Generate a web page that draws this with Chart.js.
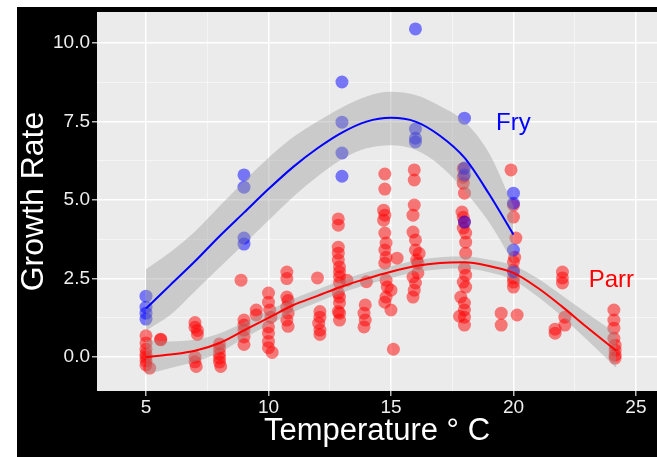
<!DOCTYPE html>
<html>
<head>
<meta charset="utf-8">
<script src="https://cdn.jsdelivr.net/npm/chart.js@4.4.1/dist/chart.umd.min.js"></script>
<style>
  html, body { margin: 0; padding: 0; background: #fff; overflow: hidden; }
  canvas { display: block; }
</style>
</head>
<body>
<canvas id="growthChart" width="657" height="457"></canvas>
<script>
// DADOS - pontos
const fryTemp   = [5, 5, 5, 5, 9, 9, 9, 9, 13, 13, 13, 13, 16, 16, 16, 16, 18, 18, 18, 18, 20, 20, 20, 20];
const fryGrowth = [1.94, 1.59, 1.40, 1.21, 5.80, 5.41, 3.79, 3.60, 8.76, 7.48, 6.50, 5.76,
                   10.45, 7.26, 6.97, 6.85, 7.61, 6.02, 5.80, 4.30, 5.22, 4.90, 3.41, 2.71];

const parrTemp = [
  5, 5, 5, 5, 5, 5, 5, 5.15, 5.6, 5.6,
  7, 7, 7.1, 7.1, 7, 7, 7.05,
  8, 8, 8, 8, 8, 8.05,
  8.88, 9, 9, 9, 9, 9,
  9.5, 9.5,
  10, 10, 10.05, 10.1, 10, 10, 10, 10, 10.15,
  10.75, 10.75, 10.75, 10.8, 10.75, 10.8, 10.75, 10.8,
  12, 12.1, 12.1, 12.05, 12.1, 12.1,
  12.85, 12.85, 12.85, 12.85, 12.85, 12.9, 12.9, 12.9, 12.9, 12.85, 12.9, 12.9, 12.85, 12.9, 12.9, 13.2,
  14, 13.95, 13.9, 13.95, 13.9,
  14.75, 14.75, 14.7, 14.75, 14.7, 14.75, 14.8, 14.75, 14.8, 14.75, 14.8, 14.85, 15, 14.8, 14.75, 15, 15.25, 15.1,
  15.95, 15.95, 15.95, 15.9, 15.9, 16, 16, 16.05, 16.1, 15.9, 16, 15.95, 15.9, 16.15, 16.1,
  17.95, 17.95, 17.95, 18, 17.9, 17.95, 18, 17.95, 18.05, 18.05, 18.05, 18, 18.05, 17.95, 18.05, 17.85, 18, 18, 17.8, 18, 18,
  19.5, 19.5,
  19.9, 20, 20, 20.1, 20.05, 20, 20, 20, 20, 20, 20.15,
  22, 22, 22, 22.1, 22.1, 21.7, 21.7,
  24.1, 24.1, 24.1, 24.1, 24.15, 24.15, 24.15, 24.15
];
const parrGrowth = [
  0.68, 0.45, 0.25, 0.10, 0.00, -0.12, -0.25, -0.35, 0.57, 0.55,
  1.10, 0.95, 0.85, 0.72, 0.00, -0.15, -0.30,
  0.42, 0.27, 0.10, -0.03, -0.16, -0.30,
  2.45, 1.18, 1.02, 0.86, 0.64, 0.40,
  1.50, 1.34,
  2.04, 1.75, 1.50, 1.27, 0.96, 0.76, 0.50, 0.30, 0.15,
  2.71, 2.50, 1.91, 1.80, 1.59, 1.40, 1.18, 0.98,
  2.52, 1.45, 1.27, 1.08, 0.86, 0.72,
  4.40, 4.20, 3.50, 3.31, 3.09, 2.87, 2.71, 2.55, 2.36, 2.04, 1.91, 1.72, 1.45, 1.40, 1.18, 2.45,
  2.40, 1.66, 1.40, 1.18, 0.96,
  5.83, 5.35, 4.68, 4.52, 4.36, 3.95, 3.63, 3.41, 3.18, 2.99, 2.45, 2.23, 2.13, 1.91, 1.75, 1.50, 3.15, 0.25,
  5.96, 5.64, 4.84, 4.52, 3.98, 3.73, 3.41, 3.09, 2.99, 2.55, 2.36, 2.13, 1.91, 3.30, 2.68,
  6.00, 5.73, 5.54, 5.22, 4.62, 4.45, 4.30, 4.11, 3.95, 3.66, 3.31, 2.83, 2.61, 2.39, 2.23, 1.91, 1.72, 1.50, 1.30, 1.27, 1.02,
  1.40, 1.02,
  5.96, 4.84, 4.46, 3.79, 3.18, 3.03, 2.77, 2.52, 2.39, 2.23, 1.34,
  2.71, 2.52, 2.36, 1.27, 1.02, 0.89, 0.76,
  1.50, 1.18, 0.92, 0.60, 0.38, 0.22, 0.06, -0.03
];

// CURVAS SUAVIZADAS E FAIXAS DE CONFIANÇA
const fryCurveTemp  = [5, 6, 7, 8, 9, 10, 11, 12, 13, 14, 15, 16, 17, 18, 19, 20];
const fryCurveFit   = [1.55, 2.3, 3.05, 3.85, 4.6, 5.35, 6.05, 6.65, 7.15, 7.5, 7.62, 7.5, 7.05, 6.35, 5.2, 3.9];
const fryCurveUpper = [2.8, 3.35, 4.0, 4.8, 5.6, 6.35, 7.0, 7.5, 7.95, 8.3, 8.45, 8.35, 8.0, 7.5, 6.5, 4.8];
const fryCurveLower = [0.85, 1.35, 2.1, 2.85, 3.6, 4.35, 5.1, 5.75, 6.3, 6.65, 6.75, 6.6, 6.1, 5.3, 4.3, 3.0];

const parrCurveTemp  = [5, 6, 7, 8, 9, 10, 11, 12, 13, 14, 15, 16, 17, 18, 19, 20, 21, 22, 23, 24.2];
const parrCurveFit   = [0.0, 0.08, 0.2, 0.45, 0.85, 1.25, 1.65, 1.95, 2.25, 2.5, 2.72, 2.9, 3.0, 3.02, 2.9, 2.68, 2.2, 1.6, 0.95, 0.2];
const parrCurveUpper = [0.55, 0.5, 0.55, 0.75, 1.1, 1.48, 1.85, 2.15, 2.45, 2.7, 2.9, 3.08, 3.18, 3.2, 3.1, 2.92, 2.5, 1.95, 1.4, 0.75];
const parrCurveLower = [-0.55, -0.35, -0.15, 0.15, 0.6, 1.02, 1.43, 1.75, 2.05, 2.3, 2.52, 2.7, 2.8, 2.82, 2.7, 2.45, 1.92, 1.28, 0.55, -0.35];

// EIXOS
const xMajorTicks = [5, 10, 15, 20, 25];
const xMinorTicks = [7.5, 12.5, 17.5, 22.5];
const yMajorTicks = [0, 2.5, 5, 7.5, 10];
const yMinorTicks = [1.25, 3.75, 6.25, 8.75];

// RÓTULOS DAS FASES
const stageNames  = ["Fry", "Parr"];
const stageTemp   = [20, 24];
const stageGrowth = [7.45, 2.45];
const stageColors = ["#0000ff", "#ff0000"];

const FONT = "'Liberation Sans', Arial, sans-serif";

function toPoints(xs, ys) {
  return xs.map((x, i) => ({ x: x, y: ys[i] }));
}

function tickList(major, minor) {
  return major.concat(minor).sort((a, b) => a - b).map(v => ({ value: v }));
}

// fundo preto + painel cinza
const background = {
  id: "background",
  beforeDraw(chart) {
    const { ctx, chartArea: a, width, height } = chart;
    ctx.save();
    ctx.fillStyle = "#ffffff";
    ctx.fillRect(0, 0, width, height);
    ctx.fillStyle = "#000000";
    ctx.fillRect(17, 7, width - 17, height - 7);
    ctx.fillStyle = "#ebebeb";
    ctx.fillRect(a.left, a.top, a.right - a.left, a.bottom - a.top);
    ctx.restore();
  }
};

// textos Fry / Parr
const stageText = {
  id: "stageText",
  afterDatasetsDraw(chart) {
    const { ctx, scales } = chart;
    ctx.save();
    ctx.font = "24px " + FONT;
    ctx.textAlign = "center";
    ctx.textBaseline = "middle";
    stageNames.forEach((name, i) => {
      ctx.fillStyle = stageColors[i];
      ctx.fillText(name, scales.x.getPixelForValue(stageTemp[i]), scales.y.getPixelForValue(stageGrowth[i]));
    });
    ctx.restore();
  }
};

const band = "rgba(153,153,153,0.4)";
const curveBase = {
  type: "line",
  showLine: true,
  pointRadius: 0,
  cubicInterpolationMode: "monotone",
  fill: false
};

new Chart(document.getElementById("growthChart"), {
  type: "scatter",
  data: {
    datasets: [
      { data: toPoints(parrTemp, parrGrowth), backgroundColor: "rgba(255,0,0,0.5)", borderWidth: 0, pointRadius: 6.5, order: 4 },
      { data: toPoints(fryTemp, fryGrowth), backgroundColor: "rgba(0,0,255,0.5)", borderWidth: 0, pointRadius: 6.5, order: 3 },

      { ...curveBase, data: toPoints(fryCurveTemp, fryCurveLower), borderWidth: 0, borderColor: "transparent", order: 2 },
      { ...curveBase, data: toPoints(fryCurveTemp, fryCurveUpper), borderWidth: 0, borderColor: "transparent", fill: "-1", backgroundColor: band, order: 2 },
      { ...curveBase, data: toPoints(parrCurveTemp, parrCurveLower), borderWidth: 0, borderColor: "transparent", order: 2 },
      { ...curveBase, data: toPoints(parrCurveTemp, parrCurveUpper), borderWidth: 0, borderColor: "transparent", fill: "-1", backgroundColor: band, order: 2 },

      { ...curveBase, data: toPoints(fryCurveTemp, fryCurveFit), borderColor: "#0000ff", borderWidth: 2, order: 1 },
      { ...curveBase, data: toPoints(parrCurveTemp, parrCurveFit), borderColor: "#ff0000", borderWidth: 2, order: 1 }
    ]
  },
  options: {
    responsive: false,
    animation: false,
    events: [],
    layout: { autoPadding: false, padding: { top: 12, left: 0, right: 0, bottom: 0 } },
    plugins: { legend: { display: false }, tooltip: { enabled: false } },
    scales: {
      x: {
        type: "linear",
        min: 3,
        max: 25.86,
        afterFit(s) { s.height = 66; s.paddingRight = 0; s.paddingLeft = 0; },
        afterBuildTicks(s) { s.ticks = tickList(xMajorTicks, xMinorTicks); },
        border: { display: false },
        grid: {
          color: ctx => xMajorTicks.includes(ctx.tick.value) ? "#ffffff" : "rgba(255,255,255,0.75)",
          lineWidth: ctx => xMajorTicks.includes(ctx.tick.value) ? 1.5 : 0.7,
          tickColor: ctx => xMajorTicks.includes(ctx.tick.value) ? "#bbbbbb" : "transparent",
          tickLength: 5
        },
        ticks: {
          color: "#eeeeee",
          font: { family: FONT, size: 19 },
          padding: 0,
          autoSkip: false,
          maxRotation: 0,
          callback: v => xMajorTicks.includes(v) ? String(v) : ""
        },
        title: {
          display: true,
          text: "Temperature ° C",
          color: "#ffffff",
          font: { family: FONT, size: 31 },
          padding: { top: 0, bottom: 7 }
        }
      },
      y: {
        type: "linear",
        min: -1.08,
        max: 10.99,
        afterFit(s) { s.width = 97; s.paddingTop = 0; s.paddingBottom = 0; },
        afterBuildTicks(s) { s.ticks = tickList(yMajorTicks, yMinorTicks); },
        border: { display: false },
        grid: {
          color: ctx => yMajorTicks.includes(ctx.tick.value) ? "#ffffff" : "rgba(255,255,255,0.75)",
          lineWidth: ctx => yMajorTicks.includes(ctx.tick.value) ? 1.5 : 0.7,
          tickColor: ctx => yMajorTicks.includes(ctx.tick.value) ? "#bbbbbb" : "transparent",
          tickLength: 5
        },
        ticks: {
          color: "#eeeeee",
          font: { family: FONT, size: 19 },
          padding: 2,
          autoSkip: false,
          callback: v => yMajorTicks.includes(v) ? v.toFixed(1) : ""
        },
        title: {
          display: true,
          text: "Growth Rate",
          color: "#ffffff",
          font: { family: FONT, size: 32 },
          padding: { top: 15, bottom: 0 }
        }
      }
    }
  },
  plugins: [background, stageText]
});
</script>
</body>
</html>
